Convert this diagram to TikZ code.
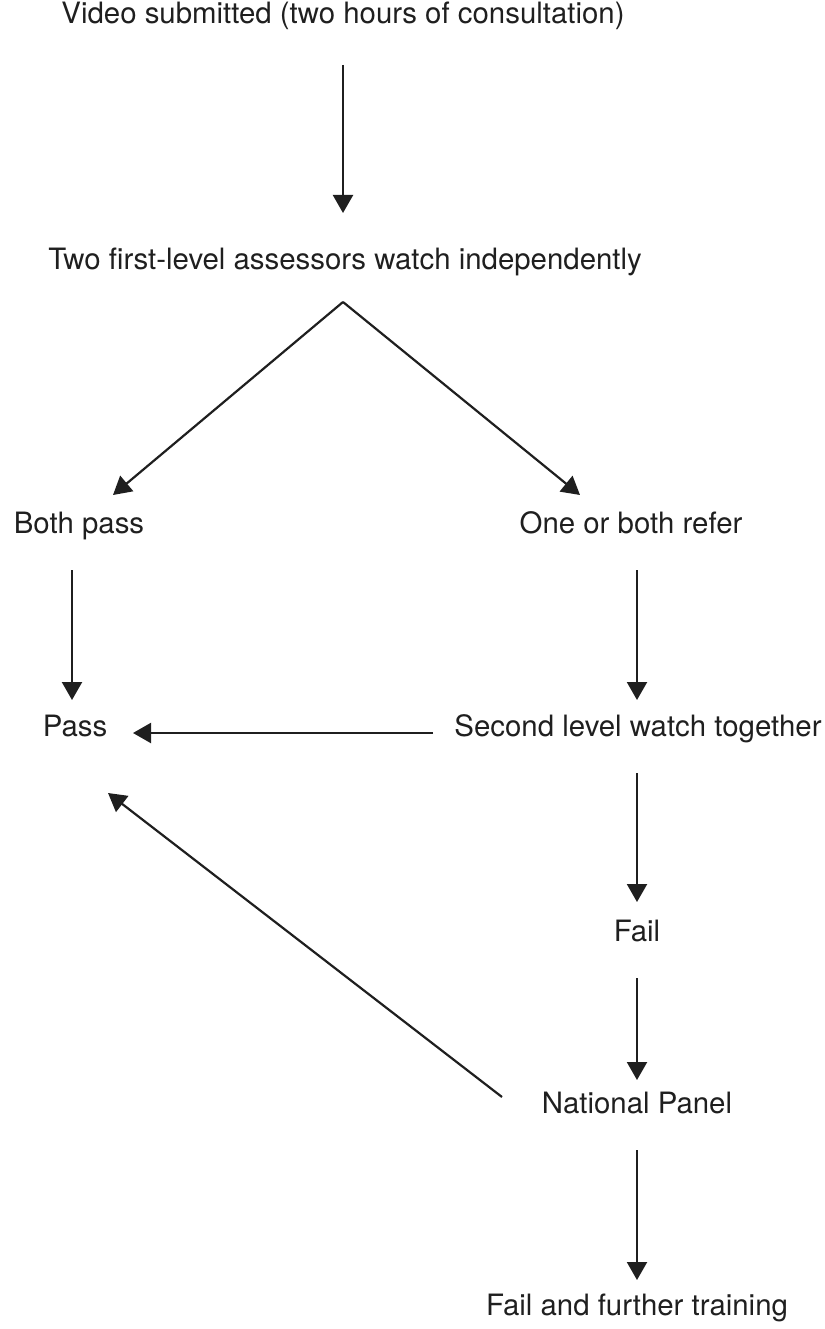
\documentclass[tikz,border=0pt]{standalone}
\usepackage{fontspec}
\setmainfont{TeX Gyre Heros}
\usetikzlibrary{calc,arrows.meta}
\begin{document}
\begin{tikzpicture}[x=1pt,y=-1pt,
  lbl/.style={inner sep=0pt, text height=0.72em, text depth=0pt,
    font=\fontsize{29.4}{35}\selectfont, text=black!88},
  arr/.style={line width=2.2pt, draw=black!88,
    -{Triangle[length=18pt,width=20pt]}}]
\useasboundingbox (0,0) rectangle (824,1329);

% labels
\node[lbl] (video)  at (343,20)   {Video submitted (two hours of consultation)};
\node[lbl] (assess) at (345,266)  {Two first-level assessors watch independently};
\node[lbl] (both)   at (79,530)   {Both pass};
\node[lbl] (refer)  at (631,530)  {One or both refer};
\node[lbl] (pass)   at (75,733)   {Pass};
\node[lbl] (second) at (638,733)  {Second level watch together};
\node[lbl] (fail)   at (637,938)  {Fail};
\node[lbl] (panel)  at (637,1110) {National Panel};
\node[lbl] (final)  at (637,1312) {Fail and further training};

% connectors
\draw[arr] ($(video)+(0,45)$) -- ($(assess)+(-2,-53)$);
\coordinate (apex) at ($(assess)+(-2,36)$);
\draw[arr] (apex) -- ($(both)+(34,-35)$);
\draw[arr] (apex) -- ($(refer)+(-51,-35)$);
\draw[arr] ($(both)+(-7,40)$) -- ($(both)+(-7,170)$);
\draw[arr] ($(refer)+(6,40)$) -- ($(refer)+(6,170)$);
\draw[arr] ($(second)+(-205,0)$) -- ($(pass)+(58,0)$);
\draw[arr] ($(second)+(-1,40)$) -- ($(fail)+(0,-36)$);
\draw[arr] ($(fail)+(0,40)$) -- ($(panel)+(0,-30)$);
\draw[arr] ($(panel)+(-135,-13)$) -- ($(pass)+(33,60)$);
\draw[arr] ($(panel)+(0,40)$) -- ($(final)+(0,-32)$);
\end{tikzpicture}
\end{document}
